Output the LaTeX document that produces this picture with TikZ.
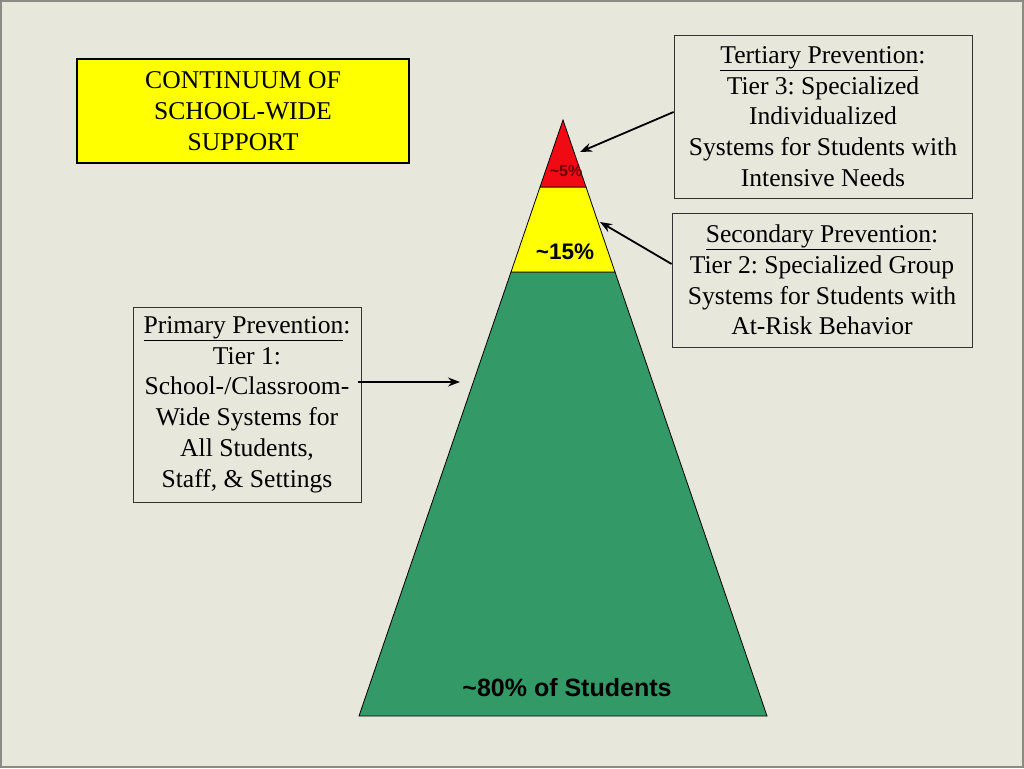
\documentclass[tikz,border=0pt]{standalone}
\usepackage{fontspec}
\setmainfont{Liberation Serif}
\setsansfont{Liberation Sans}
\usetikzlibrary{arrows.meta}
\frenchspacing
\definecolor{bgc}{HTML}{E8E7DB}
\definecolor{frame}{HTML}{8C8C84}
\definecolor{pgreen}{HTML}{339966}
\definecolor{pyellow}{HTML}{FFFF00}
\definecolor{pred}{HTML}{F00A14}
\definecolor{darkred}{HTML}{6A0000}
\tikzset{
  infobox/.style={draw=black!80, line width=0.8pt, align=center, inner sep=0pt,
    font=\fontsize{25.6}{30.8}\selectfont},
  titlebox/.style={draw=black, line width=2pt, fill=pyellow, align=center, inner sep=0pt,
    font=\fontsize{25.6}{30.8}\selectfont},
  pointer/.style={-{Stealth[length=12pt,width=9pt]}, line width=1.8pt, black},
  tier/.style={draw=black, line width=0.8pt},
  pct/.style={inner sep=0pt}
}
\begin{document}
\begin{tikzpicture}[x=1pt,y=-1pt]
\useasboundingbox (0,0) rectangle (1024,768);
\fill[frame] (0,0) rectangle (1024,768);
\fill[bgc] (2,2) rectangle (1022,766);
% pyramid
\coordinate (apex) at (563,120);
\coordinate (bl) at (359,716);
\coordinate (br) at (767,716);
\filldraw[tier, fill=pgreen] (511,272) -- (615,272) -- (br) -- (bl) -- cycle;
\filldraw[tier, fill=pyellow] (540,187) -- (586,187) -- (615,272) -- (511,272) -- cycle;
\filldraw[tier, fill=pred] (apex) -- (586,187) -- (540,187) -- cycle;
\node[pct, text=darkred, font=\sffamily\bfseries\fontsize{16}{18}\selectfont] (p5) at (566,171) {\textasciitilde5\%};
\node[pct, font=\sffamily\bfseries\fontsize{22.5}{26}\selectfont] (p15) at (565,252) {\textasciitilde15\%};
\node[pct, font=\sffamily\bfseries\fontsize{25}{29}\selectfont] (p80) at (567,688) {\textasciitilde80\% of Students};
% title
\node[titlebox, minimum width=332pt, minimum height=104pt] (title) at (243,111)
  {CONTINUUM OF\\SCHOOL-WIDE\\SUPPORT};
% tier boxes
\node[infobox, minimum width=298pt, minimum height=163pt] (tert) at (823,116.5)
  {\underline{Tertiary Prevention}:\\Tier 3: Specialized\\Individualized\\Systems for Students with\\Intensive Needs};
\node[infobox, minimum width=300pt, minimum height=134pt] (sec) at (822,280)
  {\underline{Secondary Prevention}:\\Tier 2: Specialized Group\\Systems for Students with\\At-Risk Behavior};
\node[infobox, minimum width=228pt, minimum height=195pt] (prim) at (247,404.5)
  {\underline{Primary Prevention}:\\Tier 1:\\School-/Classroom-\\Wide Systems for\\All Students,\\Staff, \& Settings};
% arrows
\coordinate (t3) at (580,152);
\coordinate (t2) at (600,222);
\coordinate (t1) at (460,382);
\draw[pointer] (tert.west |- 0,112) -- (t3);
\draw[pointer] (sec.west |- 0,264) -- (t2);
\draw[pointer] (358,382) -- (t1);
\end{tikzpicture}
\end{document}
